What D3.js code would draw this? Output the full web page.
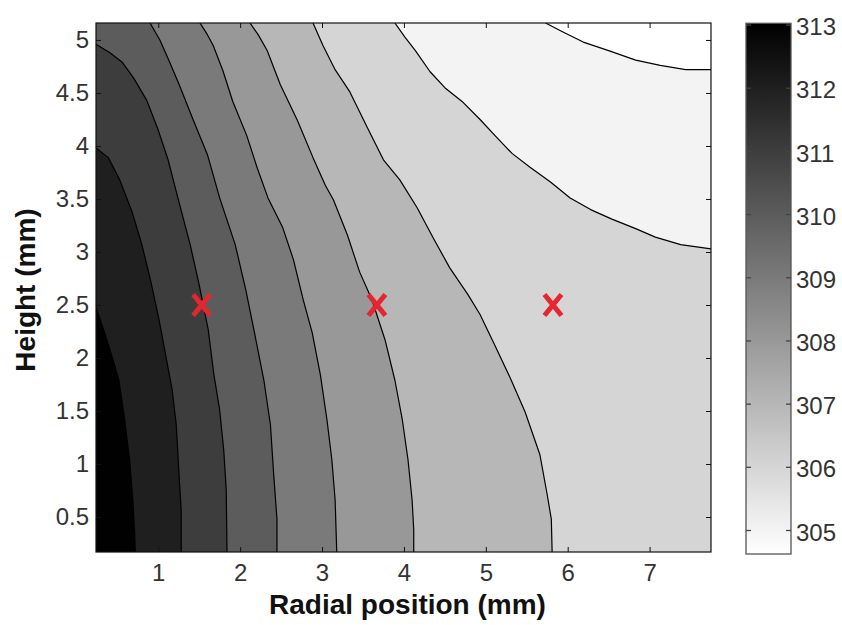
<!DOCTYPE html>
<html>
<head>
<meta charset="utf-8">
<script src="https://cdn.jsdelivr.net/npm/d3@7/dist/d3.min.js"></script>
<style>
  body { margin: 0; background: #fff; }
  svg { display: block; }
  text { font-family: "Liberation Sans", Arial, Helvetica, sans-serif; }
</style>
</head>
<body>
<svg id="chart" width="842" height="625"></svg>
<script>
// Temperature field (K) over radial position / height, shown as filled isotherms.
const levels = [305, 306, 307, 308, 309, 310, 311, 312, 313];

// Isotherm traces, [radial position (mm), height (mm)]
const iso305 = [[5.73,5.16],[5.93,5.08],[6.19,4.98],[6.50,4.90],[6.83,4.81],[7.13,4.76],[7.44,4.72],[7.75,4.72]];
const iso306 = [[3.89,5.16],[4.01,5.03],[4.14,4.90],[4.32,4.70],[4.50,4.55],[4.71,4.42],[4.93,4.25],[5.11,4.10],[5.32,3.93],[5.54,3.80],[5.79,3.66],[6.03,3.51],[6.28,3.40],[6.54,3.31],[6.83,3.22],[7.07,3.14],[7.38,3.07],[7.75,3.03]];
const iso307 = [[2.89,5.16],[3.01,4.95],[3.16,4.72],[3.34,4.51],[3.55,4.18],[3.75,3.87],[3.95,3.68],[4.16,3.42],[4.36,3.13],[4.56,2.85],[4.78,2.60],[4.93,2.41],[5.11,2.12],[5.30,1.81],[5.48,1.49],[5.66,1.09],[5.75,0.71],[5.80,0.48],[5.81,0.17]];
const iso308 = [[2.12,5.16],[2.22,5.05],[2.33,4.90],[2.49,4.58],[2.70,4.24],[2.89,3.89],[3.04,3.63],[3.14,3.49],[3.31,3.16],[3.46,2.81],[3.61,2.55],[3.77,2.17],[3.89,1.79],[3.98,1.42],[4.05,1.04],[4.10,0.66],[4.12,0.38],[4.12,0.17]];
const iso309 = [[1.51,5.16],[1.60,5.05],[1.67,4.95],[1.79,4.71],[1.91,4.42],[2.08,4.10],[2.21,3.79],[2.34,3.51],[2.52,3.23],[2.65,2.93],[2.77,2.55],[2.88,2.24],[2.98,1.84],[3.06,1.42],[3.12,1.04],[3.16,0.66],[3.18,0.17]];
const iso310 = [[0.90,5.16],[1.02,5.00],[1.14,4.79],[1.26,4.57],[1.42,4.26],[1.60,3.92],[1.75,3.51],[1.94,3.07],[2.07,2.64],[2.18,2.22],[2.29,1.79],[2.37,1.37],[2.41,0.90],[2.45,0.48],[2.45,0.17]];
const iso311 = [[0.24,4.96],[0.41,4.88],[0.56,4.79],[0.70,4.64],[0.86,4.43],[1.00,4.15],[1.12,3.87],[1.24,3.51],[1.39,3.07],[1.50,2.69],[1.61,2.27],[1.68,1.84],[1.75,1.51],[1.80,1.13],[1.83,0.76],[1.84,0.17]];
const iso312 = [[0.24,3.98],[0.39,3.89],[0.53,3.68],[0.68,3.38],[0.80,3.07],[0.91,2.72],[1.01,2.36],[1.09,2.03],[1.17,1.70],[1.22,1.37],[1.25,0.95],[1.28,0.57],[1.28,0.17]];
const iso313 = [[0.24,2.48],[0.34,2.25],[0.43,2.03],[0.52,1.79],[0.59,1.42],[0.65,1.04],[0.69,0.66],[0.71,0.38],[0.72,0.17]];
const isotherms = [iso305, iso306, iso307, iso308, iso309, iso310, iso311, iso312, iso313];

// Measurement points
const probeR = [1.53, 3.67, 5.82];
const probeH = [2.5, 2.5, 2.5];

// Axis extents and ticks
const rDomain = [0.24, 7.75];
const hDomain = [0.17, 5.16];
const tempRange = [304.62, 313.02];
const rTicks = [1, 2, 3, 4, 5, 6, 7];
const hTicks = [0.5, 1, 1.5, 2, 2.5, 3, 3.5, 4, 4.5, 5];
const tempTicks = [305, 306, 307, 308, 309, 310, 311, 312, 313];

const svg = d3.select("#chart");
const plot = { left: 96, right: 711, top: 23, bottom: 552 };
const cbar = { left: 746, right: 791, top: 23.3, bottom: 554 };

const x = d3.scaleLinear().domain(rDomain).range([plot.left, plot.right]);
const y = d3.scaleLinear().domain(hDomain).range([plot.bottom, plot.top]);
const gray = d3.scaleLinear().domain(tempRange).range(["#ffffff", "#000000"]);

// Close an isotherm into the region of higher temperature by walking the
// frame clockwise from the line's end back to its start.
const [r0, r1] = rDomain, [h0, h1] = hDomain;
const W = r1 - r0, H = h1 - h0, P = 2 * (W + H);
const eps = 1e-6;
function perim([pr, ph]) {
  if (Math.abs(pr - r0) < eps) return ph - h0;
  if (Math.abs(ph - h1) < eps) return H + (pr - r0);
  if (Math.abs(pr - r1) < eps) return H + W + (h1 - ph);
  return 2 * H + W + (r1 - pr);
}
const corners = [[0, [r0, h0]], [H, [r0, h1]], [H + W, [r1, h1]], [2 * H + W, [r1, h0]]];
function hotRegion(pts) {
  const tEnd = perim(pts[pts.length - 1]);
  const tStart = perim(pts[0]);
  const span = ((tStart - tEnd) % P + P) % P;
  const extra = corners
    .map(([t, c]) => [((t - tEnd) % P + P) % P, c])
    .filter(([d]) => d > 0 && d < span)
    .sort((a, b) => a[0] - b[0])
    .map(([, c]) => c);
  return pts.concat(extra);
}

svg.append("clipPath").attr("id", "plotClip")
  .append("rect")
  .attr("x", plot.left).attr("y", plot.top)
  .attr("width", plot.right - plot.left).attr("height", plot.bottom - plot.top);

const field = svg.append("g").attr("clip-path", "url(#plotClip)");

// coolest band
field.append("rect")
  .attr("x", plot.left).attr("y", plot.top)
  .attr("width", plot.right - plot.left).attr("height", plot.bottom - plot.top)
  .attr("fill", gray(tempRange[0]));

const area = d3.line().x(d => x(d[0])).y(d => y(d[1]));

field.selectAll("path.band")
  .data(levels.map((lv, i) => ({ lv, pts: isotherms[i] })))
  .join("path")
  .attr("class", "band")
  .attr("d", d => area(hotRegion(d.pts)) + "Z")
  .attr("fill", d => gray(d.lv))
  .attr("stroke", "none");

field.selectAll("path.iso")
  .data(isotherms)
  .join("path")
  .attr("class", "iso")
  .attr("d", d => area(d))
  .attr("fill", "none")
  .attr("stroke", "#000")
  .attr("stroke-width", 1.2)
  .attr("stroke-linejoin", "round");

// Axes with inward ticks on all four sides
const fmt = d => String(d);
const tickLen = 5;

const xAxis = svg.append("g")
  .attr("transform", `translate(0,${plot.bottom})`)
  .call(d3.axisBottom(x).tickValues(rTicks).tickFormat(fmt).tickSize(-tickLen).tickPadding(12));
const yAxis = svg.append("g")
  .attr("transform", `translate(${plot.left},0)`)
  .call(d3.axisLeft(y).tickValues(hTicks).tickFormat(fmt).tickSize(-tickLen).tickPadding(7));
svg.append("g")
  .attr("transform", `translate(0,${plot.top})`)
  .call(d3.axisTop(x).tickValues(rTicks).tickFormat("").tickSize(-tickLen));
svg.append("g")
  .attr("transform", `translate(${plot.right},0)`)
  .call(d3.axisRight(y).tickValues(hTicks).tickFormat("").tickSize(-tickLen));

svg.selectAll(".domain").remove();
svg.selectAll(".tick line").attr("stroke", "#111").attr("stroke-width", 1);
svg.selectAll(".tick text")
  .attr("font-size", 24)
  .attr("fill", "#333")
  .style("font-family", '"Liberation Sans", Arial, sans-serif');

svg.append("rect")
  .attr("x", plot.left).attr("y", plot.top)
  .attr("width", plot.right - plot.left).attr("height", plot.bottom - plot.top)
  .attr("fill", "none").attr("stroke", "#111").attr("stroke-width", 1.2);

// Probe markers
svg.append("g").selectAll("path")
  .data(probeR.map((r, i) => [r, probeH[i]]))
  .join("path")
  .attr("transform", d => `translate(${x(d[0])},${y(d[1])})`)
  .attr("d", "M-8.5,-10.5L8.5,10.5M8.5,-10.5L-8.5,10.5")
  .attr("stroke", "#e5262e")
  .attr("stroke-width", 5)
  .attr("fill", "none");

// Axis titles
svg.append("text")
  .attr("x", (plot.left + plot.right) / 2 + 4)
  .attr("y", 614)
  .attr("text-anchor", "middle")
  .attr("font-size", 28)
  .attr("font-weight", "bold")
  .attr("fill", "#111")
  .text("Radial position (mm)");

svg.append("text")
  .attr("transform", "translate(35,290) rotate(-90)")
  .attr("text-anchor", "middle")
  .attr("font-size", 28)
  .attr("font-weight", "bold")
  .attr("fill", "#111")
  .text("Height (mm)");

// Colour bar
const cy = d3.scaleLinear().domain(tempRange).range([cbar.bottom, cbar.top]);
const grad = svg.append("defs").append("linearGradient")
  .attr("id", "cbGrad").attr("x1", 0).attr("y1", 1).attr("x2", 0).attr("y2", 0);
grad.selectAll("stop")
  .data(tempRange)
  .join("stop")
  .attr("offset", (d, i) => i)
  .attr("stop-color", d => gray(d));

svg.append("rect")
  .attr("x", cbar.left).attr("y", cbar.top)
  .attr("width", cbar.right - cbar.left).attr("height", cbar.bottom - cbar.top)
  .attr("fill", "url(#cbGrad)")
  .attr("stroke", "#555").attr("stroke-width", 1.3);

const cbAxisL = svg.append("g")
  .attr("transform", `translate(${cbar.left},0)`)
  .call(d3.axisLeft(cy).tickValues(tempTicks).tickFormat("").tickSize(-tickLen));
const cbAxisR = svg.append("g")
  .attr("transform", `translate(${cbar.right},0)`)
  .call(d3.axisRight(cy).tickValues(tempTicks).tickFormat(fmt).tickSize(-tickLen).tickPadding(5));
[cbAxisL, cbAxisR].forEach(g => {
  g.select(".domain").remove();
  g.selectAll(".tick line").attr("stroke", "#444").attr("stroke-width", 1.3);
});
cbAxisR.selectAll(".tick text")
  .attr("font-size", 24)
  .attr("fill", "#333")
  .attr("dy", "0.42em");
</script>
</body>
</html>
